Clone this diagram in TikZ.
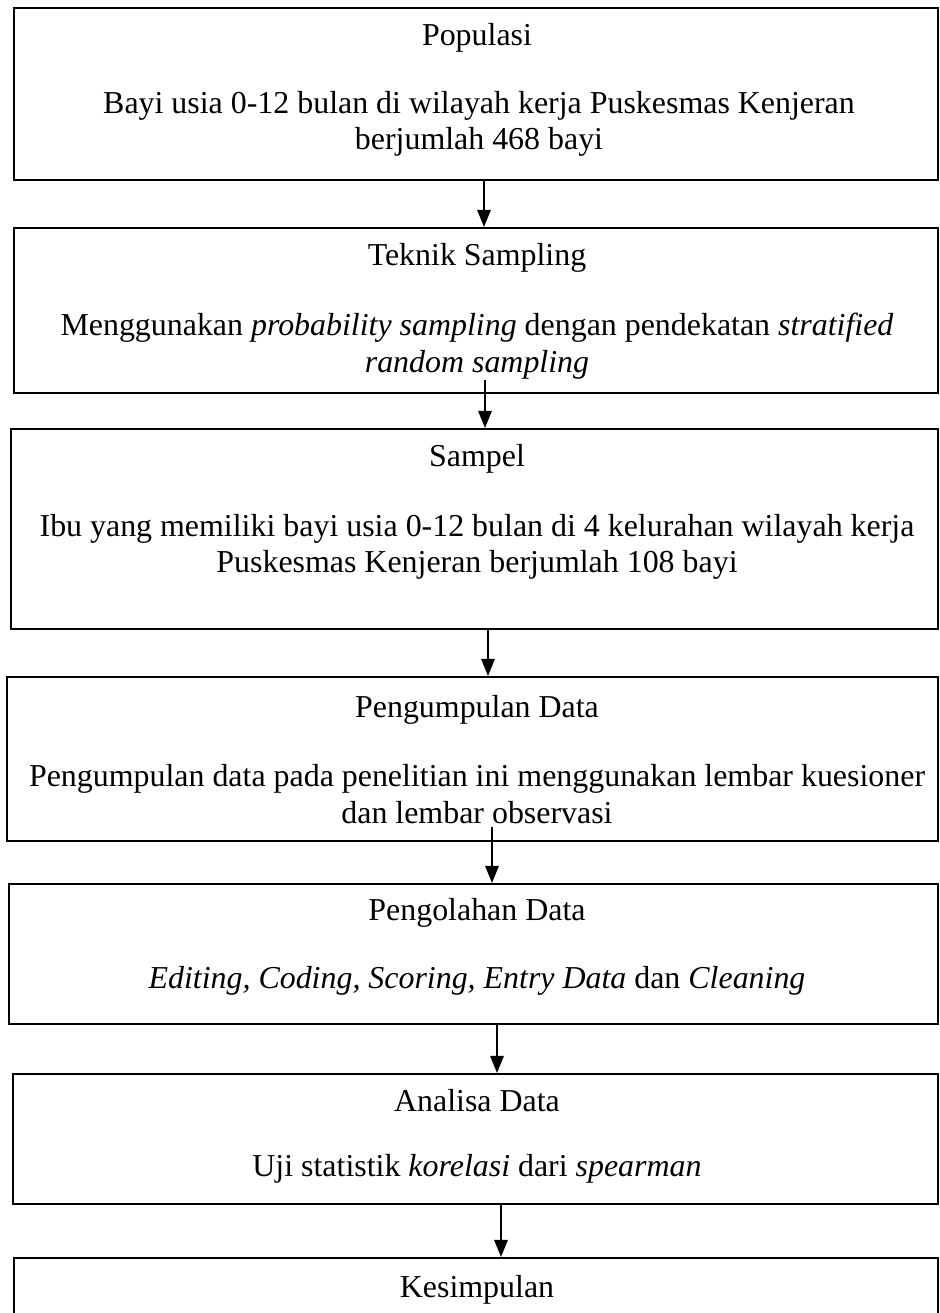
\documentclass[tikz,border=0pt]{standalone}
\usepackage{fontspec}
\setmainfont{Liberation Serif}
\usetikzlibrary{arrows.meta}

\newcommand{\px}{0.376pt}

\tikzset{
    stage/.style={draw, line width=0.75pt, anchor=north west, inner sep=0pt},
    stagetitle/.style={inner sep=0pt, font=\fontsize{12}{13.8}\selectfont},
    stagebody/.style={inner sep=0pt, align=center, font=\fontsize{12}{13.8}\selectfont},
    flow/.style={line width=0.75pt, -{Triangle[length=6.4pt, width=5pt]}}
}

\begin{document}
\begin{tikzpicture}[x=0.376pt, y=-0.376pt]
    \useasboundingbox (0,0) rectangle (939,1313);

    % boxes
    \node[stage, minimum width=924*\px, minimum height=172*\px] (populasi) at (13,7) {};
    \node[stage, minimum width=924*\px, minimum height=165*\px] (teknik) at (13,227) {};
    \node[stage, minimum width=927*\px, minimum height=200*\px] (sampel) at (10,428) {};
    \node[stage, minimum width=931*\px, minimum height=164*\px] (pengumpulan) at (6,676) {};
    \node[stage, minimum width=929*\px, minimum height=140*\px] (pengolahan) at (8,883) {};
    \node[stage, minimum width=925*\px, minimum height=130*\px] (analisa) at (12,1073) {};
    \node[stage, minimum width=924*\px, minimum height=150*\px] (kesimpulan) at (13,1257) {};

    % texts
    \node[stagetitle] (populasi-title) at (477,38) {Populasi};
    \node[stagebody] (populasi-body) at (479,124) {Bayi usia 0-12 bulan di wilayah kerja Puskesmas Kenjeran\\berjumlah 468 bayi};

    \node[stagetitle] (teknik-title) at (477,258) {Teknik Sampling};
    \node[stagebody] (teknik-body) at (477,346) {Menggunakan \textit{probability sampling} dengan pendekatan \textit{stratified}\\\textit{random sampling}};

    \node[stagetitle] (sampel-title) at (477,459) {Sampel};
    \node[stagebody] (sampel-body) at (477,547) {Ibu yang memiliki bayi usia 0-12 bulan di 4 kelurahan wilayah kerja\\Puskesmas Kenjeran berjumlah 108 bayi};

    \node[stagetitle] (pengumpulan-title) at (477,710) {Pengumpulan Data};
    \node[stagebody] (pengumpulan-body) at (477,794) {Pengumpulan data pada penelitian ini menggunakan lembar kuesioner\\dan lembar observasi};

    \node[stagetitle] (pengolahan-title) at (477,913) {Pengolahan Data};
    \node[stagebody] (pengolahan-body) at (477,981) {\textit{Editing, Coding, Scoring, Entry Data} dan \textit{Cleaning}};

    \node[stagetitle] (analisa-title) at (477,1101) {Analisa Data};
    \node[stagebody] (analisa-body) at (477,1169) {Uji statistik \textit{korelasi} dari \textit{spearman}};

    \node[stagetitle] (kesimpulan-title) at (477,1290) {Kesimpulan};

    % arrows
    \draw[flow] ([xshift=8*\px]populasi.south) -- ([xshift=8*\px]teknik.north);
    \draw[flow] ([xshift=9*\px, yshift=14*\px]teknik.south) -- ([xshift=10.5*\px]sampel.north);
    \draw[flow] ([xshift=13.5*\px]sampel.south) -- ([xshift=15.5*\px]pengumpulan.north);
    \draw[flow] ([xshift=19.5*\px, yshift=15*\px]pengumpulan.south) -- ([xshift=18.5*\px]pengolahan.north);
    \draw[flow] ([xshift=23.5*\px]pengolahan.south) -- ([xshift=21.5*\px]analisa.north);
    \draw[flow] ([xshift=25.5*\px]analisa.south) -- ([xshift=25*\px]kesimpulan.north);
\end{tikzpicture}
\end{document}
